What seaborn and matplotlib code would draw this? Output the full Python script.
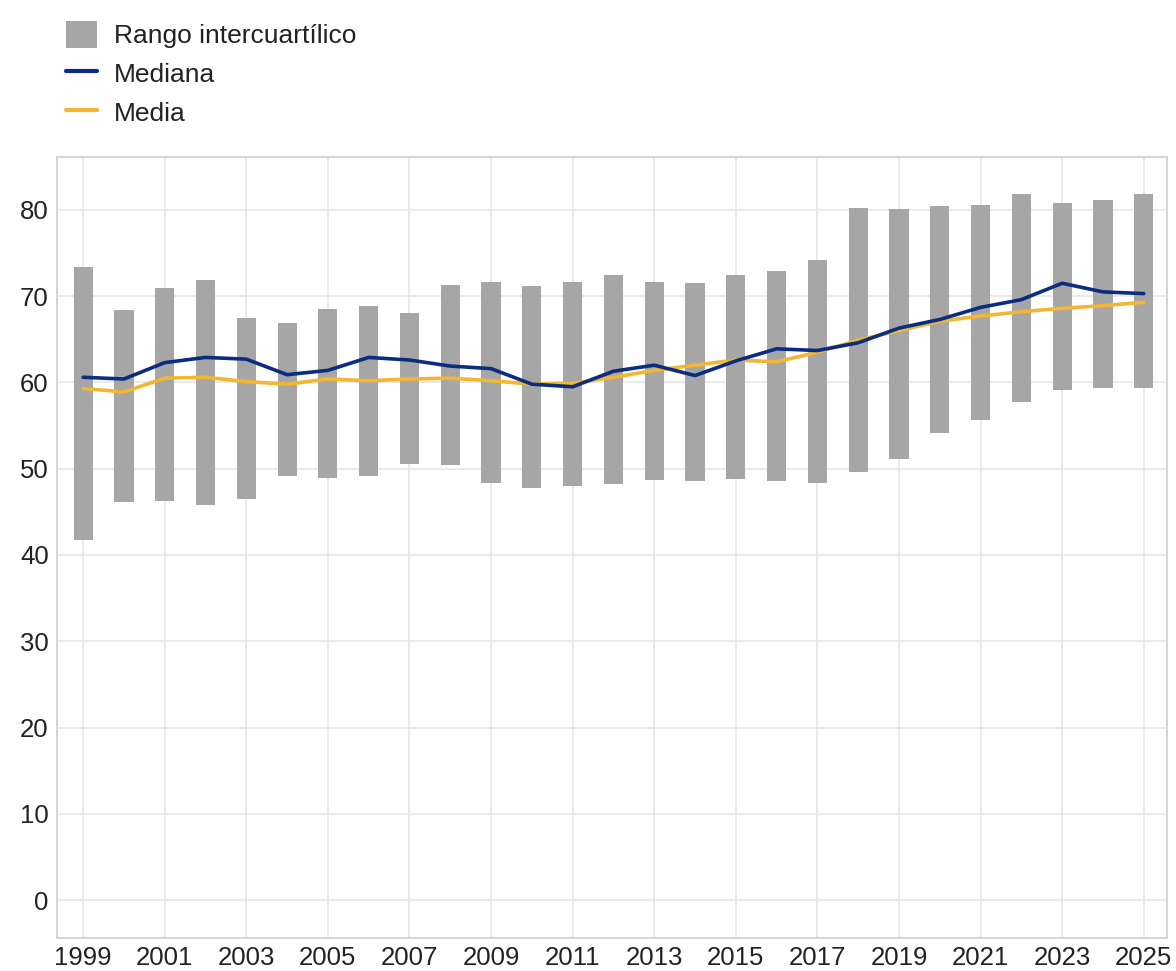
import matplotlib
matplotlib.use("Agg")
import matplotlib.pyplot as plt
import seaborn as sns
import pandas as pd
from matplotlib.patches import Patch
from matplotlib.lines import Line2D

years = list(range(1999, 2026))
p25 = [41.7, 46.1, 46.3, 45.8, 46.5, 49.2, 48.9, 49.1, 50.6, 50.4, 48.3, 47.8, 48.0,
       48.2, 48.7, 48.6, 48.8, 48.6, 48.4, 49.6, 51.1, 54.1, 55.6, 57.7, 59.1, 59.3, 59.4]
p75 = [73.4, 68.4, 70.9, 71.9, 67.5, 66.9, 68.5, 68.9, 68.1, 71.3, 71.6, 71.2, 71.7,
       72.4, 71.6, 71.5, 72.5, 72.9, 74.2, 80.2, 80.1, 80.4, 80.6, 81.9, 80.8, 81.2, 81.9]
mediana = [60.6, 60.4, 62.3, 62.9, 62.7, 60.9, 61.4, 62.9, 62.6, 61.9, 61.6, 59.8, 59.5,
           61.3, 62.0, 60.8, 62.5, 63.9, 63.7, 64.6, 66.3, 67.3, 68.7, 69.6, 71.5, 70.5, 70.3]
media = [59.3, 58.9, 60.5, 60.6, 60.1, 59.8, 60.4, 60.2, 60.4, 60.5, 60.2, 59.8, 59.9,
         60.6, 61.4, 62.0, 62.6, 62.4, 63.5, 64.9, 66.0, 67.1, 67.7, 68.2, 68.6, 68.9, 69.3]

df = pd.DataFrame({"year": years, "p25": p25, "p75": p75,
                   "Mediana": mediana, "Media": media})

GRAY = "#a6a6a6"
NAVY = "#0b2d80"
YELLOW = "#f2b631"

sns.set_theme(style="whitegrid")
plt.rcParams["font.family"] = ["Liberation Sans", "DejaVu Sans"]

fig = plt.figure(figsize=(11.76, 9.71), dpi=100)
ax = fig.add_axes([0.0485, 0.034, 0.9435, 0.804])

ax.bar(df["year"], df["p75"] - df["p25"], bottom=df["p25"], width=0.47,
       color=GRAY, linewidth=0, zorder=2)
sns.lineplot(data=df, x="year", y="Mediana", color=NAVY, linewidth=2.6, ax=ax, zorder=4)
sns.lineplot(data=df, x="year", y="Media", color=YELLOW, linewidth=2.6, ax=ax, zorder=3)

ax.set_xlim(1998.36, 2025.56)
ax.set_ylim(-4.4, 86.1)
ax.set_xticks(range(1999, 2026, 2))
ax.set_yticks(range(0, 81, 10))
ax.set_xlabel("")
ax.set_ylabel("")
ax.tick_params(axis="both", labelsize=18.5, colors="#222222", length=0, pad=6)
ax.grid(True, color="#e6e6e6", linewidth=1.2)
for s in ax.spines.values():
    s.set_color("#d6d6d6")
    s.set_linewidth(1.5)

handles = [Patch(facecolor=GRAY, edgecolor="none", label="Rango intercuartílico"),
           Line2D([0], [0], color=NAVY, linewidth=3, label="Mediana"),
           Line2D([0], [0], color=YELLOW, linewidth=3, label="Media")]
fig.legend(handles=handles, loc="upper left", bbox_to_anchor=(0.04, 0.997),
           frameon=False, fontsize=19, handlelength=1.2, handleheight=1.15,
           handletextpad=0.65, labelspacing=0.44, labelcolor="#222222",
           borderaxespad=0.3)

fig.savefig("out.png", dpi=100)
